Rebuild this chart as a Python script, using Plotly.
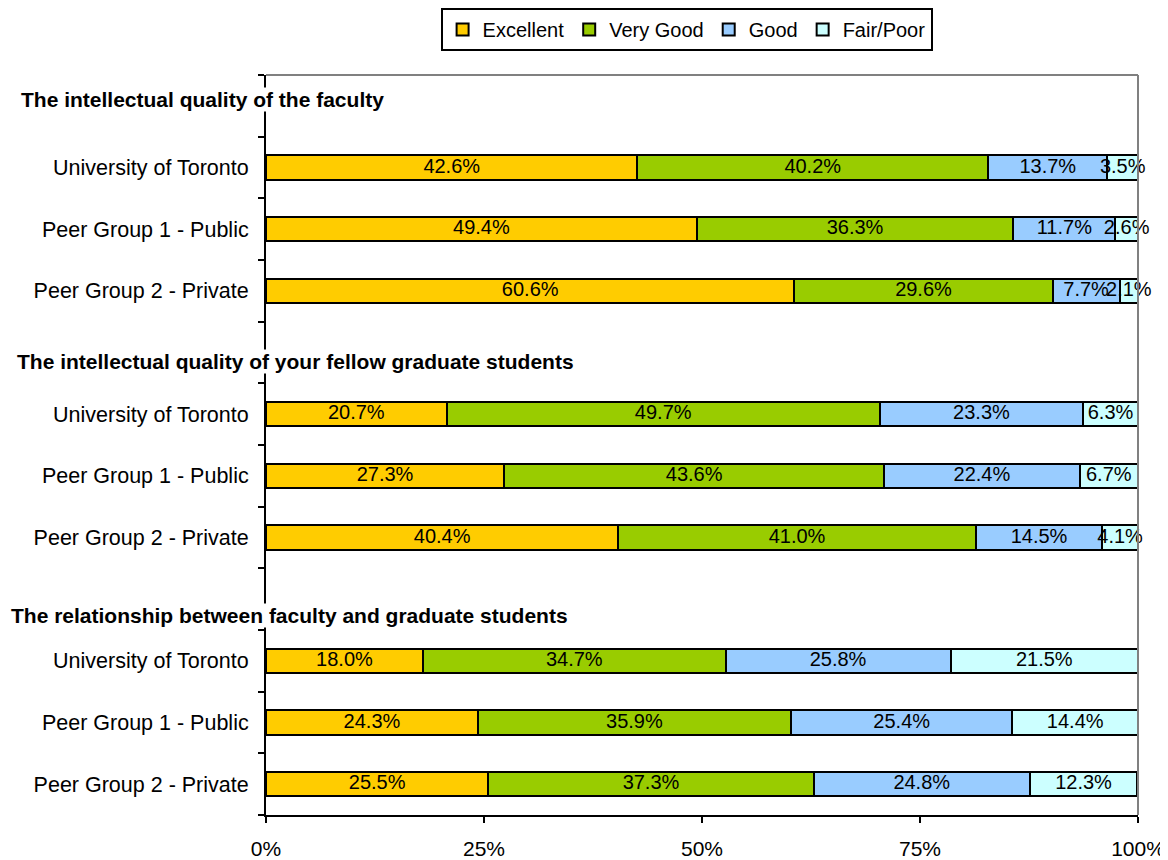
import plotly.graph_objects as go

series = ["Excellent", "Very Good", "Good", "Fair/Poor"]
colors = ["#FFCC00", "#99CC00", "#99CCFF", "#CCFFFF"]

headers = [
    "The intellectual quality of the faculty",
    "The intellectual quality of your fellow graduate students",
    "The relationship between faculty and graduate students",
]
groups = ["University of Toronto", "Peer Group 1 - Public", "Peer Group 2 - Private"]

# rows in top-to-bottom order; slot index (header rows sit at 0, 4, 8)
slots = [1, 2, 3, 5, 6, 7, 9, 10, 11]
row_labels = groups * 3

excellent = [42.6, 49.4, 60.6, 20.7, 27.3, 40.4, 18.0, 24.3, 25.5]
very_good = [40.2, 36.3, 29.6, 49.7, 43.6, 41.0, 34.7, 35.9, 37.3]
good = [13.7, 11.7, 7.7, 23.3, 22.4, 14.5, 25.8, 25.4, 24.8]
fair_poor = [3.5, 2.6, 2.1, 6.3, 6.7, 4.1, 21.5, 14.4, 12.3]
values = [excellent, very_good, good, fair_poor]

x_ticks = [0, 25, 50, 75, 100]
x_ticktext = ["0%", "25%", "50%", "75%", "100%"]

FONT = "Liberation Sans, Arial, sans-serif"

fig = go.Figure()
cum = [0.0] * len(slots)
for name, col, vals in zip(series, colors, values):
    fig.add_trace(go.Bar(
        name=name, orientation="h", y=slots, x=vals, width=0.39,
        marker=dict(color=col, line=dict(color="black", width=2)),
        textposition="none", hoverinfo="x+name",
    ))
    mids = [c + v / 2 for c, v in zip(cum, vals)]
    cum = [c + v for c, v in zip(cum, vals)]
    fig.add_trace(go.Scatter(
        x=mids, y=slots, mode="text", text=[f"{v:.1f}%" for v in vals],
        textposition="middle center", showlegend=False, hoverinfo="skip",
        textfont=dict(family=FONT, size=20, color="black"), cliponaxis=False,
    ))

header_y = [-0.1, 4.15, 8.26]
header_x = [20, 16, 10]
for txt, yy, xx in zip(headers, header_y, header_x):
    fig.add_annotation(
        text=f"<b>{txt}</b>", xref="paper", yref="y",
        x=(xx - 266) / 872, y=yy, xanchor="left", yanchor="middle",
        showarrow=False, bgcolor="white", borderpad=0,
        font=dict(family=FONT, size=21, color="black"),
    )

# gray top and right frame lines
fig.add_shape(type="line", xref="paper", yref="paper", x0=0, x1=1, y0=1, y1=1,
              line=dict(color="#808080", width=2))
fig.add_shape(type="line", xref="paper", yref="paper", x0=1, x1=1, y0=0, y1=1,
              line=dict(color="#808080", width=2))

fig.update_layout(
    barmode="stack",
    width=1160, height=852,
    margin=dict(l=258, r=30, t=67, b=45, autoexpand=False),
    paper_bgcolor="white", plot_bgcolor="white",
    font=dict(family=FONT, size=21, color="black"),
    showlegend=True,
    legend=dict(
        orientation="h", xref="container", yref="container",
        x=0.585, y=1.0, xanchor="center", yanchor="top",
        bordercolor="black", borderwidth=2, bgcolor="white",
        font=dict(family=FONT, size=20, color="black"),
        traceorder="normal", itemwidth=30,
    ),
    xaxis=dict(
        range=[0, 100], tickvals=x_ticks, ticktext=x_ticktext,
        showgrid=False, zeroline=False, showline=True, linecolor="black", linewidth=2,
        ticks="outside", ticklen=6, tickwidth=2, tickcolor="black",
        tickfont=dict(family=FONT, size=21), ticklabelstandoff=8,
    ),
    yaxis=dict(
        range=[11.5, -0.5], tickvals=slots, ticktext=row_labels,
        showgrid=False, zeroline=False, showline=True, linecolor="black", linewidth=2,
        ticks="", ticklabelstandoff=11,
        tickfont=dict(family=FONT, size=21.5),
        minor=dict(tickmode="linear", tick0=0.5, dtick=1, ticks="outside",
                   ticklen=6, tickwidth=2, tickcolor="black", showgrid=False),
    ),
)

fig.write_html("out.html")
